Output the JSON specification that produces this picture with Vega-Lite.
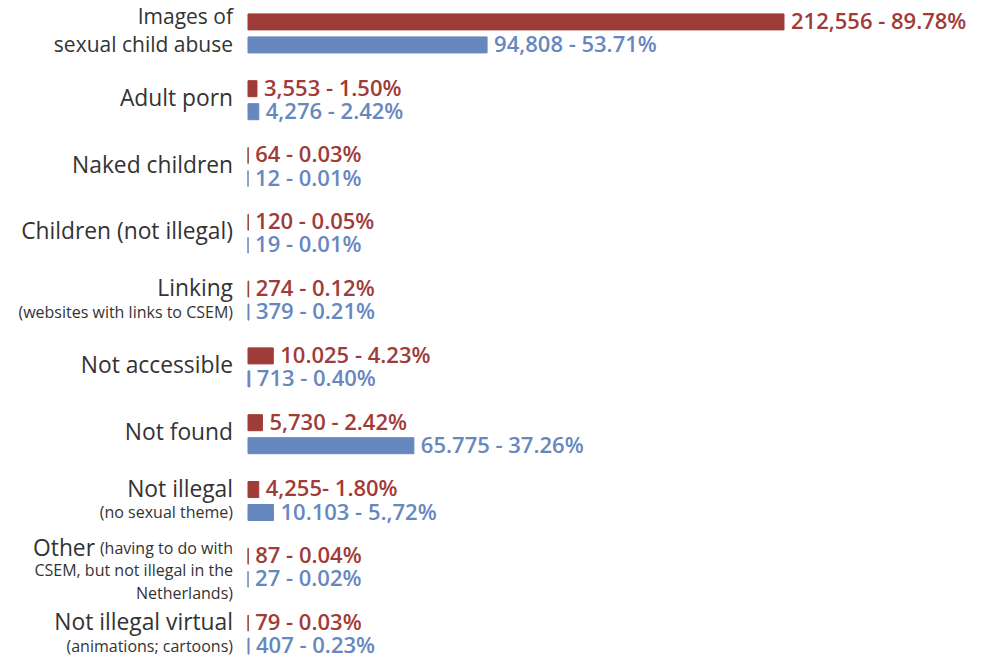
{
  "$schema": "https://vega.github.io/schema/vega-lite/v6.json",
  "autosize": "none",
  "padding": {"left": 248, "top": 0, "right": 205, "bottom": 0},
  "width": 536,
  "height": 668,
  "config": {"view": {"stroke": null}, "font": "Open Sans"},
  "datasets": {
    "bars": [
      {"cat": "images", "series": "a", "value": 212556, "label": "212,556 - 89.78%"},
      {"cat": "images", "series": "b", "value": 94808, "label": "94,808 - 53.71%"},
      {"cat": "adult", "series": "a", "value": 3553, "label": "3,553 - 1.50%"},
      {"cat": "adult", "series": "b", "value": 4276, "label": "4,276 - 2.42%"},
      {"cat": "naked", "series": "a", "value": 64, "label": "64 - 0.03%"},
      {"cat": "naked", "series": "b", "value": 12, "label": "12 - 0.01%"},
      {"cat": "children", "series": "a", "value": 120, "label": "120 - 0.05%"},
      {"cat": "children", "series": "b", "value": 19, "label": "19 - 0.01%"},
      {"cat": "linking", "series": "a", "value": 274, "label": "274 - 0.12%"},
      {"cat": "linking", "series": "b", "value": 379, "label": "379 - 0.21%"},
      {"cat": "notacc", "series": "a", "value": 10025, "label": "10.025 - 4.23%"},
      {"cat": "notacc", "series": "b", "value": 713, "label": "713 - 0.40%"},
      {"cat": "notfound", "series": "a", "value": 5730, "label": "5,730 - 2.42%"},
      {"cat": "notfound", "series": "b", "value": 65775, "label": "65.775 - 37.26%"},
      {"cat": "notillegal", "series": "a", "value": 4255, "label": "4,255- 1.80%"},
      {"cat": "notillegal", "series": "b", "value": 10103, "label": "10.103 - 5.,72%"},
      {"cat": "other", "series": "a", "value": 87, "label": "87 - 0.04%"},
      {"cat": "other", "series": "b", "value": 27, "label": "27 - 0.02%"},
      {"cat": "virtual", "series": "a", "value": 79, "label": "79 - 0.03%"},
      {"cat": "virtual", "series": "b", "value": 407, "label": "407 - 0.23%"}
    ],
    "cats": [
      {"cat": "images", "main": ["Images of", "sexual child abuse"], "sub": null},
      {"cat": "adult", "main": "Adult porn", "sub": null},
      {"cat": "naked", "main": "Naked children", "sub": null},
      {"cat": "children", "main": "Children (not illegal)", "sub": null},
      {"cat": "linking", "main": "Linking", "sub": "(websites with links to CSEM)"},
      {"cat": "notacc", "main": "Not accessible", "sub": null},
      {"cat": "notfound", "main": "Not found", "sub": null},
      {"cat": "notillegal", "main": "Not illegal", "sub": "(no sexual theme)"},
      {"cat": "other", "main": "Other", "sub": ["(having to do with", "CSEM, but not illegal in the", "Netherlands)"]},
      {"cat": "virtual", "main": "Not illegal virtual", "sub": "(animations; cartoons)"}
    ]
  },
  "encoding": {
    "y": {
      "field": "cat",
      "type": "nominal",
      "axis": null,
      "scale": {
        "domain": ["images", "adult", "naked", "children", "linking", "notacc", "notfound", "notillegal", "other", "virtual"],
        "paddingInner": 0,
        "paddingOuter": 0
      }
    }
  },
  "layer": [
    {
      "data": {"name": "bars"},
      "mark": {"type": "bar", "strokeWidth": 1},
      "encoding": {
        "yOffset": {"field": "series", "type": "nominal", "scale": {"paddingInner": 0.304, "paddingOuter": 0.604}},
        "x": {"field": "value", "type": "quantitative", "axis": null, "scale": {"domain": [0, 212556], "nice": false}},
        "color": {"field": "series", "type": "nominal", "legend": null, "scale": {"domain": ["a", "b"], "range": ["#9f3b38", "#6787bf"]}},
        "stroke": {"field": "series", "type": "nominal", "legend": null, "scale": {"domain": ["a", "b"], "range": ["#9f3b38", "#6787bf"]}}
      }
    },
    {
      "data": {"name": "bars"},
      "mark": {"type": "text", "align": "left", "baseline": "middle", "dx": 7, "fontSize": 22, "fontWeight": 600},
      "encoding": {
        "yOffset": {"field": "series", "type": "nominal", "scale": {"paddingInner": 0.304, "paddingOuter": 0.604}},
        "x": {"field": "value", "type": "quantitative"},
        "text": {"field": "label", "type": "nominal"},
        "color": {"field": "series", "type": "nominal", "legend": null}
      }
    },
    {
      "data": {"name": "cats"},
      "transform": [{"filter": "isArray(datum.main)"}],
      "mark": {"type": "text", "align": "right", "baseline": "middle", "dx": -15, "dy": -15.5, "fontSize": 21, "lineHeight": 28, "color": "#333333"},
      "encoding": {
        "x": {"datum": 0, "type": "quantitative"},
        "text": {"field": "main", "type": "nominal"}
      }
    },
    {
      "data": {"name": "cats"},
      "transform": [{"filter": "datum.sub == null && !isArray(datum.main)"}],
      "mark": {"type": "text", "align": "right", "baseline": "middle", "dx": -15, "dy": -1.5, "fontSize": 22.8, "color": "#333333"},
      "encoding": {
        "x": {"datum": 0, "type": "quantitative"},
        "text": {"field": "main", "type": "nominal"}
      }
    },
    {
      "data": {"name": "cats"},
      "transform": [{"filter": "datum.sub != null && datum.cat != 'other'"}],
      "mark": {"type": "text", "align": "right", "baseline": "middle", "dx": -15, "dy": -11.5, "fontSize": 22.8, "color": "#333333"},
      "encoding": {
        "x": {"datum": 0, "type": "quantitative"},
        "text": {"field": "main", "type": "nominal"}
      }
    },
    {
      "data": {"name": "cats"},
      "transform": [{"filter": "datum.sub != null && datum.cat != 'other'"}],
      "mark": {"type": "text", "align": "right", "baseline": "middle", "dx": -15, "dy": 12, "fontSize": 16, "color": "#333333"},
      "encoding": {
        "x": {"datum": 0, "type": "quantitative"},
        "text": {"field": "sub", "type": "nominal"}
      }
    },
    {
      "data": {"name": "cats"},
      "transform": [{"filter": "datum.cat == 'other'"}],
      "mark": {"type": "text", "align": "right", "baseline": "middle", "dx": -153, "dy": -19, "fontSize": 22.8, "color": "#333333"},
      "encoding": {
        "x": {"datum": 0, "type": "quantitative"},
        "text": {"field": "main", "type": "nominal"}
      }
    },
    {
      "data": {"name": "cats"},
      "transform": [{"filter": "datum.cat == 'other'"}],
      "mark": {"type": "text", "align": "right", "baseline": "middle", "dx": -15, "dy": -19, "fontSize": 16, "lineHeight": 22.5, "color": "#333333"},
      "encoding": {
        "x": {"datum": 0, "type": "quantitative"},
        "text": {"field": "sub", "type": "nominal"}
      }
    }
  ]
}
